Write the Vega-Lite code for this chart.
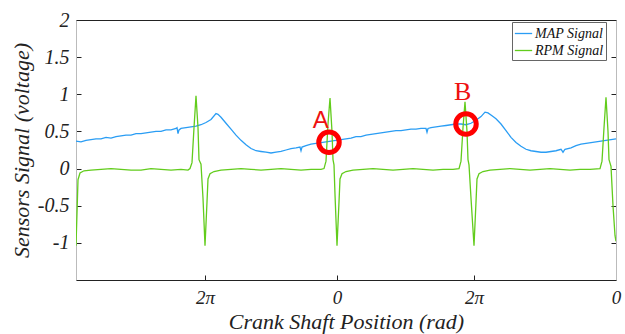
{
  "$schema": "https://vega.github.io/schema/vega-lite/v6.json",
  "width": 540,
  "height": 260,
  "autosize": {"type": "none"},
  "padding": {"left": 76, "top": 20, "right": 9, "bottom": 54},
  "background": "white",
  "config": {
    "view": {"stroke": "#222", "strokeWidth": 1},
    "font": "Liberation Serif",
    "axis": {"labelFont": "Liberation Serif", "titleFont": "Liberation Serif", "labelFontStyle": "italic", "titleFontStyle": "italic", "labelColor": "#222", "titleColor": "#222", "labelFontWeight": "normal", "titleFontWeight": "normal", "grid": false, "tickColor": "#222"}
  },
  "resolve": {"scale": {"y": "independent"}},
  "layer": [
    {
      "layer": [
        {
          "data": {"values": [
            {"x":0,"v":0.37,"s":"MAP Signal"},{"x":5,"v":0.36,"s":"MAP Signal"},{"x":10,"v":0.38,"s":"MAP Signal"},{"x":15,"v":0.39,"s":"MAP Signal"},{"x":20,"v":0.4,"s":"MAP Signal"},{"x":25,"v":0.4,"s":"MAP Signal"},{"x":30,"v":0.42,"s":"MAP Signal"},{"x":35,"v":0.41,"s":"MAP Signal"},{"x":40,"v":0.43,"s":"MAP Signal"},{"x":45,"v":0.44,"s":"MAP Signal"},{"x":50,"v":0.45,"s":"MAP Signal"},{"x":55,"v":0.45,"s":"MAP Signal"},{"x":60,"v":0.47,"s":"MAP Signal"},{"x":65,"v":0.47,"s":"MAP Signal"},{"x":70,"v":0.48,"s":"MAP Signal"},{"x":75,"v":0.49,"s":"MAP Signal"},{"x":80,"v":0.5,"s":"MAP Signal"},{"x":85,"v":0.5,"s":"MAP Signal"},{"x":90,"v":0.52,"s":"MAP Signal"},{"x":95,"v":0.52,"s":"MAP Signal"},{"x":100,"v":0.54,"s":"MAP Signal"},{"x":101,"v":0.55,"s":"MAP Signal"},{"x":102,"v":0.47,"s":"MAP Signal"},{"x":103,"v":0.52,"s":"MAP Signal"},{"x":105,"v":0.54,"s":"MAP Signal"},{"x":110,"v":0.55,"s":"MAP Signal"},{"x":115,"v":0.56,"s":"MAP Signal"},{"x":120,"v":0.57,"s":"MAP Signal"},{"x":125,"v":0.59,"s":"MAP Signal"},{"x":130,"v":0.62,"s":"MAP Signal"},{"x":135,"v":0.66,"s":"MAP Signal"},{"x":140,"v":0.74,"s":"MAP Signal"},{"x":142,"v":0.73,"s":"MAP Signal"},{"x":145,"v":0.69,"s":"MAP Signal"},{"x":150,"v":0.61,"s":"MAP Signal"},{"x":155,"v":0.53,"s":"MAP Signal"},{"x":160,"v":0.45,"s":"MAP Signal"},{"x":165,"v":0.38,"s":"MAP Signal"},{"x":170,"v":0.32,"s":"MAP Signal"},{"x":175,"v":0.27,"s":"MAP Signal"},{"x":180,"v":0.24,"s":"MAP Signal"},{"x":185,"v":0.23,"s":"MAP Signal"},{"x":190,"v":0.22,"s":"MAP Signal"},{"x":195,"v":0.21,"s":"MAP Signal"},{"x":200,"v":0.22,"s":"MAP Signal"},{"x":205,"v":0.23,"s":"MAP Signal"},{"x":210,"v":0.25,"s":"MAP Signal"},{"x":215,"v":0.27,"s":"MAP Signal"},{"x":220,"v":0.28,"s":"MAP Signal"},{"x":224,"v":0.29,"s":"MAP Signal"},{"x":225,"v":0.24,"s":"MAP Signal"},{"x":226,"v":0.29,"s":"MAP Signal"},{"x":230,"v":0.31,"s":"MAP Signal"},{"x":235,"v":0.33,"s":"MAP Signal"},{"x":240,"v":0.34,"s":"MAP Signal"},{"x":245,"v":0.35,"s":"MAP Signal"},{"x":250,"v":0.36,"s":"MAP Signal"},{"x":255,"v":0.37,"s":"MAP Signal"},{"x":260,"v":0.38,"s":"MAP Signal"},{"x":265,"v":0.39,"s":"MAP Signal"},{"x":270,"v":0.4,"s":"MAP Signal"},{"x":275,"v":0.41,"s":"MAP Signal"},{"x":280,"v":0.43,"s":"MAP Signal"},{"x":285,"v":0.43,"s":"MAP Signal"},{"x":290,"v":0.45,"s":"MAP Signal"},{"x":295,"v":0.46,"s":"MAP Signal"},{"x":300,"v":0.47,"s":"MAP Signal"},{"x":305,"v":0.48,"s":"MAP Signal"},{"x":310,"v":0.49,"s":"MAP Signal"},{"x":315,"v":0.5,"s":"MAP Signal"},{"x":320,"v":0.51,"s":"MAP Signal"},{"x":325,"v":0.51,"s":"MAP Signal"},{"x":330,"v":0.52,"s":"MAP Signal"},{"x":335,"v":0.53,"s":"MAP Signal"},{"x":340,"v":0.53,"s":"MAP Signal"},{"x":345,"v":0.54,"s":"MAP Signal"},{"x":350,"v":0.54,"s":"MAP Signal"},{"x":351,"v":0.49,"s":"MAP Signal"},{"x":352,"v":0.54,"s":"MAP Signal"},{"x":355,"v":0.55,"s":"MAP Signal"},{"x":360,"v":0.56,"s":"MAP Signal"},{"x":365,"v":0.57,"s":"MAP Signal"},{"x":370,"v":0.58,"s":"MAP Signal"},{"x":375,"v":0.59,"s":"MAP Signal"},{"x":380,"v":0.6,"s":"MAP Signal"},{"x":385,"v":0.6,"s":"MAP Signal"},{"x":390,"v":0.59,"s":"MAP Signal"},{"x":395,"v":0.61,"s":"MAP Signal"},{"x":400,"v":0.65,"s":"MAP Signal"},{"x":405,"v":0.7,"s":"MAP Signal"},{"x":409,"v":0.76,"s":"MAP Signal"},{"x":412,"v":0.75,"s":"MAP Signal"},{"x":416,"v":0.71,"s":"MAP Signal"},{"x":420,"v":0.67,"s":"MAP Signal"},{"x":425,"v":0.6,"s":"MAP Signal"},{"x":430,"v":0.51,"s":"MAP Signal"},{"x":435,"v":0.42,"s":"MAP Signal"},{"x":440,"v":0.35,"s":"MAP Signal"},{"x":445,"v":0.3,"s":"MAP Signal"},{"x":450,"v":0.26,"s":"MAP Signal"},{"x":455,"v":0.24,"s":"MAP Signal"},{"x":460,"v":0.23,"s":"MAP Signal"},{"x":465,"v":0.22,"s":"MAP Signal"},{"x":470,"v":0.22,"s":"MAP Signal"},{"x":475,"v":0.23,"s":"MAP Signal"},{"x":480,"v":0.24,"s":"MAP Signal"},{"x":485,"v":0.26,"s":"MAP Signal"},{"x":487,"v":0.22,"s":"MAP Signal"},{"x":489,"v":0.26,"s":"MAP Signal"},{"x":495,"v":0.28,"s":"MAP Signal"},{"x":500,"v":0.31,"s":"MAP Signal"},{"x":505,"v":0.33,"s":"MAP Signal"},{"x":510,"v":0.34,"s":"MAP Signal"},{"x":515,"v":0.35,"s":"MAP Signal"},{"x":520,"v":0.36,"s":"MAP Signal"},{"x":525,"v":0.37,"s":"MAP Signal"},{"x":530,"v":0.38,"s":"MAP Signal"},{"x":535,"v":0.39,"s":"MAP Signal"},{"x":540,"v":0.4,"s":"MAP Signal"},
            {"x":0,"v":-1.04,"s":"RPM Signal"},{"x":1,"v":-0.6,"s":"RPM Signal"},{"x":2,"v":-0.15,"s":"RPM Signal"},{"x":4,"v":-0.06,"s":"RPM Signal"},{"x":8,"v":-0.03,"s":"RPM Signal"},{"x":15,"v":-0.02,"s":"RPM Signal"},{"x":25,"v":-0.01,"s":"RPM Signal"},{"x":35,"v":0.0,"s":"RPM Signal"},{"x":45,"v":-0.01,"s":"RPM Signal"},{"x":55,"v":-0.02,"s":"RPM Signal"},{"x":65,"v":-0.02,"s":"RPM Signal"},{"x":75,"v":0.0,"s":"RPM Signal"},{"x":85,"v":-0.01,"s":"RPM Signal"},{"x":95,"v":-0.02,"s":"RPM Signal"},{"x":105,"v":-0.01,"s":"RPM Signal"},{"x":112,"v":-0.02,"s":"RPM Signal"},{"x":114,"v":0.0,"s":"RPM Signal"},{"x":116,"v":0.08,"s":"RPM Signal"},{"x":118,"v":0.55,"s":"RPM Signal"},{"x":120,"v":0.98,"s":"RPM Signal"},{"x":122,"v":0.55,"s":"RPM Signal"},{"x":123,"v":0.12,"s":"RPM Signal"},{"x":125,"v":0.06,"s":"RPM Signal"},{"x":127,"v":-0.4,"s":"RPM Signal"},{"x":129,"v":-1.04,"s":"RPM Signal"},{"x":131,"v":-0.45,"s":"RPM Signal"},{"x":132,"v":-0.14,"s":"RPM Signal"},{"x":134,"v":-0.07,"s":"RPM Signal"},{"x":138,"v":-0.04,"s":"RPM Signal"},{"x":145,"v":-0.02,"s":"RPM Signal"},{"x":155,"v":-0.01,"s":"RPM Signal"},{"x":165,"v":0.0,"s":"RPM Signal"},{"x":175,"v":-0.01,"s":"RPM Signal"},{"x":185,"v":-0.02,"s":"RPM Signal"},{"x":195,"v":-0.01,"s":"RPM Signal"},{"x":205,"v":0.0,"s":"RPM Signal"},{"x":215,"v":-0.01,"s":"RPM Signal"},{"x":225,"v":-0.02,"s":"RPM Signal"},{"x":235,"v":-0.01,"s":"RPM Signal"},{"x":245,"v":-0.01,"s":"RPM Signal"},{"x":248,"v":0.0,"s":"RPM Signal"},{"x":250,"v":0.1,"s":"RPM Signal"},{"x":252,"v":0.6,"s":"RPM Signal"},{"x":254,"v":0.95,"s":"RPM Signal"},{"x":256,"v":0.5,"s":"RPM Signal"},{"x":257,"v":0.12,"s":"RPM Signal"},{"x":258,"v":0.05,"s":"RPM Signal"},{"x":259,"v":-0.35,"s":"RPM Signal"},{"x":261,"v":-1.04,"s":"RPM Signal"},{"x":263,"v":-0.45,"s":"RPM Signal"},{"x":264,"v":-0.14,"s":"RPM Signal"},{"x":266,"v":-0.07,"s":"RPM Signal"},{"x":270,"v":-0.04,"s":"RPM Signal"},{"x":277,"v":-0.02,"s":"RPM Signal"},{"x":287,"v":-0.01,"s":"RPM Signal"},{"x":297,"v":0.0,"s":"RPM Signal"},{"x":307,"v":-0.01,"s":"RPM Signal"},{"x":317,"v":-0.02,"s":"RPM Signal"},{"x":327,"v":-0.01,"s":"RPM Signal"},{"x":337,"v":0.0,"s":"RPM Signal"},{"x":347,"v":-0.01,"s":"RPM Signal"},{"x":357,"v":-0.02,"s":"RPM Signal"},{"x":367,"v":-0.01,"s":"RPM Signal"},{"x":377,"v":-0.01,"s":"RPM Signal"},{"x":383,"v":0.0,"s":"RPM Signal"},{"x":385,"v":0.1,"s":"RPM Signal"},{"x":387,"v":0.55,"s":"RPM Signal"},{"x":389,"v":0.9,"s":"RPM Signal"},{"x":391,"v":0.5,"s":"RPM Signal"},{"x":392,"v":0.12,"s":"RPM Signal"},{"x":393,"v":0.05,"s":"RPM Signal"},{"x":395,"v":-0.4,"s":"RPM Signal"},{"x":398,"v":-1.04,"s":"RPM Signal"},{"x":400,"v":-0.45,"s":"RPM Signal"},{"x":401,"v":-0.14,"s":"RPM Signal"},{"x":403,"v":-0.07,"s":"RPM Signal"},{"x":407,"v":-0.04,"s":"RPM Signal"},{"x":414,"v":-0.02,"s":"RPM Signal"},{"x":424,"v":-0.01,"s":"RPM Signal"},{"x":434,"v":0.0,"s":"RPM Signal"},{"x":444,"v":-0.01,"s":"RPM Signal"},{"x":454,"v":-0.02,"s":"RPM Signal"},{"x":464,"v":-0.01,"s":"RPM Signal"},{"x":474,"v":0.0,"s":"RPM Signal"},{"x":484,"v":-0.01,"s":"RPM Signal"},{"x":494,"v":-0.02,"s":"RPM Signal"},{"x":504,"v":-0.01,"s":"RPM Signal"},{"x":514,"v":-0.01,"s":"RPM Signal"},{"x":524,"v":0.0,"s":"RPM Signal"},{"x":526,"v":0.1,"s":"RPM Signal"},{"x":528,"v":0.55,"s":"RPM Signal"},{"x":530,"v":0.96,"s":"RPM Signal"},{"x":532,"v":0.5,"s":"RPM Signal"},{"x":533,"v":0.12,"s":"RPM Signal"},{"x":535,"v":0.03,"s":"RPM Signal"},{"x":537,"v":-0.5,"s":"RPM Signal"},{"x":539,"v":-0.9,"s":"RPM Signal"},{"x":540,"v":-0.98,"s":"RPM Signal"}
          ]},
          "mark": {"type": "line", "strokeWidth": 1.3, "clip": true},
          "encoding": {
            "x": {"field": "x", "type": "quantitative", "scale": {"domain": [0, 540], "nice": false, "zero": false},
              "axis": {"title": "Crank Shaft Position (rad)", "values": [129, 261, 398, 540], "labelExpr": "(datum.value == 129 || datum.value == 398) ? '2π' : '0'", "labelFont": "Liberation Serif", "labelFontStyle": "italic", "labelFontSize": 19, "titleFontSize": 22, "tickSize": -5, "labelPadding": 13, "titlePadding": 4, "domainColor": "#222", "labelFlush": false}},
            "y": {"field": "v", "type": "quantitative", "scale": {"domain": [-1.5, 2], "nice": false, "zero": false},
              "axis": {"title": "Sensors Signal (voltage)", "values": [-1, -0.5, 0, 0.5, 1, 1.5, 2], "labelExpr": "replace(format(datum.value, '~g'), '−', '-')", "labelFont": "Liberation Serif", "labelFontStyle": "italic", "labelFontSize": 20, "titleFontSize": 22, "tickSize": -5, "labelPadding": 12, "titlePadding": 4, "domainColor": "#bbb"}},
            "color": {"field": "s", "type": "nominal", "scale": {"domain": ["MAP Signal", "RPM Signal"], "range": ["#2a9df4", "#62cc1c"]},
              "legend": {"title": null, "orient": "none", "legendX": 436, "legendY": 2, "symbolType": "stroke", "symbolStrokeWidth": 1.3, "symbolSize": 300, "labelFont": "Liberation Serif", "labelFontStyle": "italic", "labelFontSize": 14, "labelColor": "#111", "fillColor": "white", "strokeColor": "#666", "padding": 2, "rowPadding": -1, "labelOffset": 2}}
          }
        },
        {
          "data": {"values": [{"x": 253, "v": 0.355, "id": "A"}, {"x": 390, "v": 0.6, "id": "B"}]},
          "mark": {"type": "point", "shape": "circle", "filled": false, "stroke": "#ff0000", "strokeWidth": 5, "size": 420, "opacity": 1},
          "encoding": {"x": {"field": "x", "type": "quantitative"}, "y": {"field": "v", "type": "quantitative"}}
        },
        {
          "data": {"values": [{"x": 244.7, "v": 0.55, "id": "A"}]},
          "mark": {"type": "text", "color": "#ee1111", "fontSize": 24, "baseline": "alphabetic", "align": "center", "font": "Liberation Sans"},
          "encoding": {"x": {"field": "x", "type": "quantitative"}, "y": {"field": "v", "type": "quantitative"}, "text": {"field": "id"}}
        },
        {
          "data": {"values": [{"x": 386.7, "v": 0.92, "id": "B"}]},
          "mark": {"type": "text", "color": "#ee1111", "fontSize": 26, "baseline": "alphabetic", "align": "center", "font": "Liberation Serif"},
          "encoding": {"x": {"field": "x", "type": "quantitative"}, "y": {"field": "v", "type": "quantitative"}, "text": {"field": "id"}}
        }
      ]
    },
    {
      "data": {"values": [{"v": 0}]},
      "mark": {"type": "point", "opacity": 0},
      "encoding": {
        "y": {"field": "v", "type": "quantitative", "scale": {"domain": [-1.5, 2], "nice": false, "zero": false},
          "axis": {"orient": "right", "title": null, "labels": false, "values": [-1, -0.5, 0, 0.5, 1, 1.5, 2], "tickSize": -5, "domainColor": "#bbb"}}
      }
    }
  ]
}
